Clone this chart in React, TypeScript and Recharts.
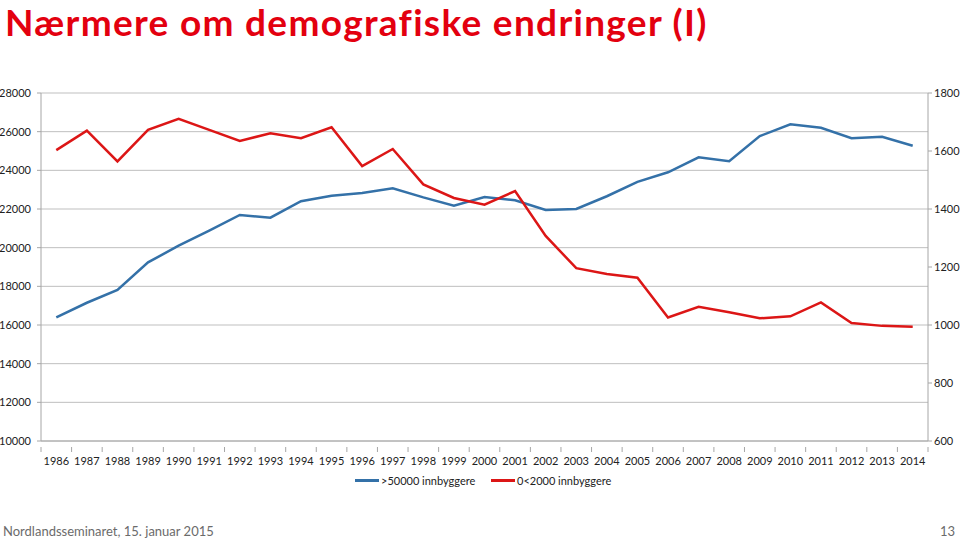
import React from "react";
import { LineChart, Line, XAxis, YAxis, CartesianGrid } from "recharts";

const years = [
  "1986", "1987", "1988", "1989", "1990", "1991", "1992", "1993", "1994", "1995",
  "1996", "1997", "1998", "1999", "2000", "2001", "2002", "2003", "2004", "2005",
  "2006", "2007", "2008", "2009", "2010", "2011", "2012", "2013", "2014",
];

// >50000 innbyggere (left axis)
const large = [
  16400, 17150, 17810, 19240, 20100, 20880, 21690, 21550, 22400, 22690,
  22830, 23070, 22600, 22170, 22620, 22450, 21950, 22000, 22660, 23400,
  23900, 24670, 24470, 25770, 26380, 26200, 25660, 25740, 25270,
];

// 0<2000 innbyggere (right axis)
const small = [
  1603, 1670, 1564, 1673, 1711, 1673, 1635, 1661, 1644, 1682,
  1548, 1607, 1485, 1438, 1415, 1462, 1307, 1196, 1176, 1163,
  1026, 1063, 1044, 1023, 1030, 1078, 1007, 997, 994,
];

const leftTicks = [10000, 12000, 14000, 16000, 18000, 20000, 22000, 24000, 26000, 28000];
const rightTicks = [600, 800, 1000, 1200, 1400, 1600, 1800];

const seriesNames = [">50000 innbyggere", "0<2000 innbyggere"];
const BLUE = "#3471a8";
const RED = "#dc1616";
const FONT = "Lato, 'Open Sans', sans-serif";

const data = years.map((y, i) => ({ year: y, large: large[i], small: small[i] }));

const W = 960;
const H = 541;
const PLOT_LEFT = 41;
const PLOT_RIGHT = 928;
const band = (PLOT_RIGHT - PLOT_LEFT) / years.length;

// Excel puts the category ticks between labels, so draw them ourselves
const YearTick = ({ x, y, payload, index }: any) => (
  <g>
    <line x1={x - band / 2} x2={x - band / 2} y1={y - 10} y2={y - 5} stroke="#a6a6a6" />
    {index === years.length - 1 && (
      <line x1={x + band / 2} x2={x + band / 2} y1={y - 10} y2={y - 5} stroke="#a6a6a6" />
    )}
    <text x={x} y={y} dy="0.71em" textAnchor="middle" fontSize={11} fill="#222" fontFamily={FONT}>
      {payload.value}
    </text>
  </g>
);

export default function App() {
  return (
    <div style={{ position: "fixed", left: 0, top: 0, width: W, height: H, background: "#fff", overflow: "hidden" }}>
      <div style={{ position: "absolute", left: 5, top: 1, fontFamily: FONT, fontSize: 37, fontWeight: "bold",
        color: "#e3000f", lineHeight: "42px", letterSpacing: 1.3, whiteSpace: "nowrap" }}>
        Nærmere om demografiske endringer (I)
      </div>

      <div style={{ position: "absolute", left: 0, top: 0 }}>
        <LineChart width={W} height={H} data={data} margin={{ top: 93, right: 0, bottom: 0, left: 0 }}>
          <CartesianGrid yAxisId="left" vertical={false} stroke="#bfbfbf" strokeWidth={1} />
          <XAxis
            dataKey="year"
            height={100}
            padding={{ left: band / 2, right: band / 2 }}
            tickLine={false}
            axisLine={{ stroke: "#a6a6a6" }}
            tick={<YearTick />}
            tickMargin={10}
            interval={0}
          />
          <YAxis
            yAxisId="left"
            orientation="left"
            width={41}
            domain={[10000, 28000]}
            ticks={leftTicks}
            interval={0}
            tickSize={4}
            tickMargin={6}
            tickLine={{ stroke: "#a6a6a6" }}
            axisLine={{ stroke: "#a6a6a6" }}
            tick={{ fontSize: 11, fill: "#222", fontFamily: FONT }}
          />
          <YAxis
            yAxisId="right"
            orientation="right"
            width={32}
            domain={[600, 1800]}
            ticks={rightTicks}
            interval={0}
            tickSize={4}
            tickMargin={2}
            tickLine={{ stroke: "#a6a6a6" }}
            axisLine={{ stroke: "#a6a6a6" }}
            tick={{ fontSize: 11, fill: "#222", fontFamily: FONT }}
          />
          <Line yAxisId="left" type="linear" dataKey="large" name={seriesNames[0]} stroke={BLUE}
            strokeWidth={2.5} dot={false} isAnimationActive={false} />
          <Line yAxisId="right" type="linear" dataKey="small" name={seriesNames[1]} stroke={RED}
            strokeWidth={2.5} dot={false} isAnimationActive={false} />
        </LineChart>
      </div>

      <div style={{ position: "absolute", top: 474, left: 355, display: "flex", alignItems: "center",
        fontFamily: FONT, fontSize: 11, color: "#222" }}>
        {seriesNames.map((n, i) => (
          <div key={n} style={{ display: "flex", alignItems: "center", marginRight: i === 0 ? 20 : 0 }}>
            <div style={{ width: 24, height: 3, background: i === 0 ? BLUE : RED, marginRight: 2 }} />
            <span style={{ width: i === 0 ? 90 : "auto", whiteSpace: "nowrap" }}>{n}</span>
          </div>
        ))}
      </div>

      <div style={{ position: "absolute", left: 3, top: 523, fontFamily: FONT, fontSize: 13, color: "#6b6b6b" }}>
        Nordlandsseminaret, 15. januar 2015
      </div>
      <div style={{ position: "absolute", right: 5, top: 523, fontFamily: FONT, fontSize: 13, color: "#6b6b6b" }}>
        13
      </div>
    </div>
  );
}
